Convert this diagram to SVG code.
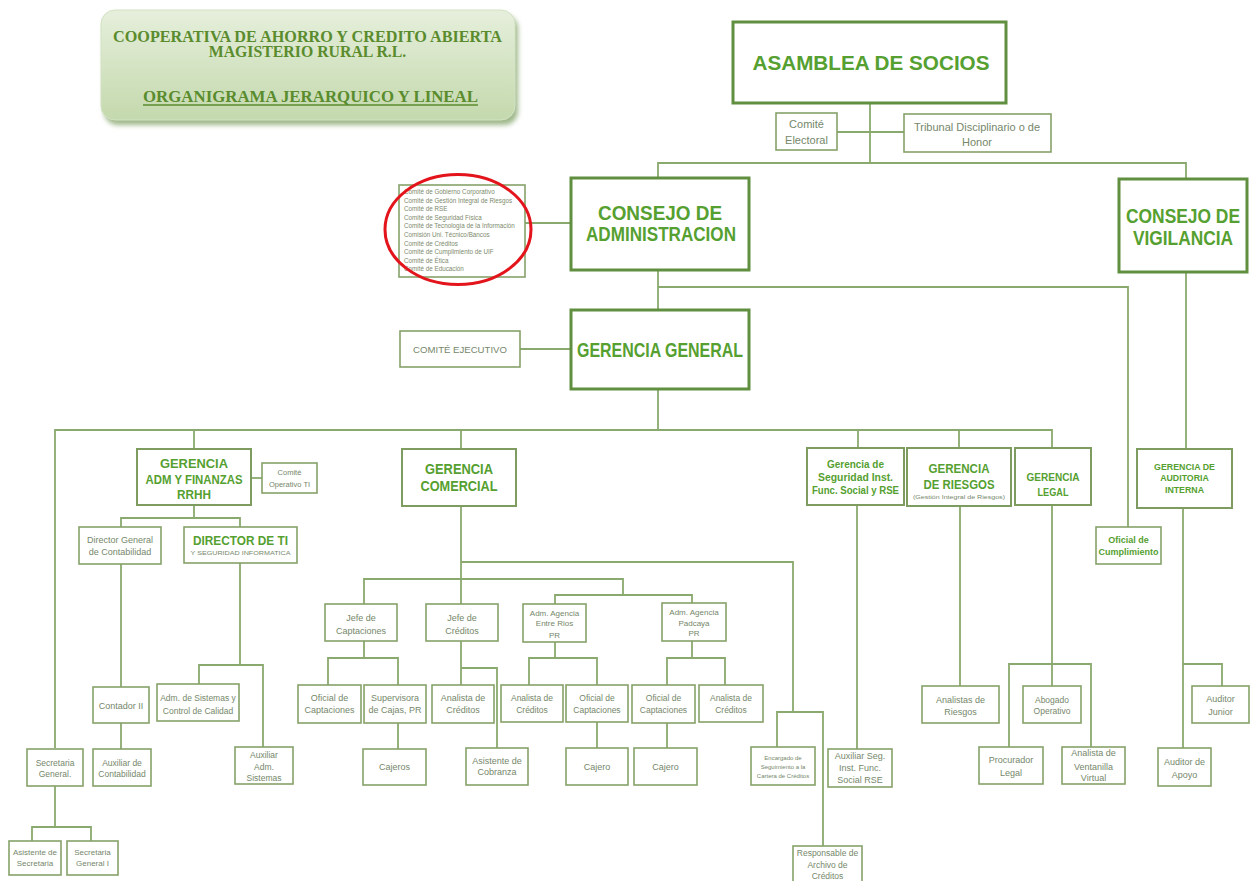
<svg xmlns="http://www.w3.org/2000/svg" width="1255" height="881" viewBox="0 0 1255 881">
<defs>
<linearGradient id="tg" x1="0" y1="0" x2="0" y2="1">
<stop offset="0" stop-color="#e6efdc"/>
<stop offset="1" stop-color="#c4d9ad"/>
</linearGradient>
<filter id="blur" x="-10%" y="-10%" width="120%" height="130%"><feGaussianBlur stdDeviation="2.5"/></filter>
<style>
.b{fill:#fff;stroke:#86a26a;stroke-width:1.6}
.bm{fill:#fff;stroke:#7f9c60;stroke-width:2}
.bb{fill:#fff;stroke:#5f8f3f;stroke-width:3}
.c path{fill:none;stroke:#8aa96e;stroke-width:1.8}
text{font-family:"Liberation Sans",Arial,sans-serif;text-anchor:middle}
.h{font-weight:bold;fill:#55a030}
.s{fill:#75876a}
.tt{font-family:"Liberation Serif","Times New Roman",serif;font-weight:bold;fill:#5a8c2e}
.cl{fill:#7d8a6c;font-size:6.3px;text-anchor:start}
</style>
</defs>
<rect width="1255" height="881" fill="#fff"/>

<g id="title">
<rect x="104" y="15" width="414" height="110" rx="14" fill="#9fb88a" filter="url(#blur)"/>
<rect x="101" y="10" width="414" height="110" rx="14" fill="url(#tg)" stroke="#d3e2c4" stroke-width="1"/>
<text class="tt" x="307.5" y="42" style="font-size:15.8px" textLength="389" lengthAdjust="spacingAndGlyphs">COOPERATIVA DE AHORRO Y CREDITO ABIERTA</text>
<text class="tt" x="307.5" y="57" style="font-size:15.8px">MAGISTERIO RURAL R.L.</text>
<text class="tt" x="310.5" y="102" style="font-size:16.6px" textLength="335" lengthAdjust="spacingAndGlyphs">ORGANIGRAMA JERARQUICO Y LINEAL</text>
<line x1="143" y1="105" x2="478" y2="105" stroke="#5a8c2e" stroke-width="1.5"/>
</g>

<g id="connectors" class="c">
<path d="M870,103V163"/>
<path d="M837,132H904"/>
<path d="M658,178V163H1186V179"/>
<path d="M525,223H571"/>
<path d="M658,270V310"/>
<path d="M658,287H1128V527"/>
<path d="M1186,272V449"/>
<path d="M520,349H571"/>
<path d="M658,389V430"/>
<path d="M55,748V430H1052V448"/>
<path d="M194,430V449"/>
<path d="M461,430V449"/>
<path d="M858,430V448"/>
<path d="M959,430V448"/>
<path d="M251,478H262"/>
<path d="M194,505V518"/>
<path d="M121,527V518H240V527"/>
<path d="M121,564V687"/>
<path d="M121,723V749"/>
<path d="M240,563V665"/>
<path d="M199,684V665H263V747"/>
<path d="M55,786V827"/>
<path d="M32,841V827H91V841"/>
<path d="M461,506V604"/>
<path d="M461,562H793V712"/>
<path d="M777,747V712H823V846"/>
<path d="M364,604V579H623V595"/>
<path d="M555,604V595H692V603"/>
<path d="M364,641V658"/>
<path d="M328,685V658H398V685"/>
<path d="M398,723V749"/>
<path d="M461,641V685"/>
<path d="M461,668H497V748"/>
<path d="M555,642V658"/>
<path d="M529,685V658H597V685"/>
<path d="M597,722V748"/>
<path d="M692,641V658"/>
<path d="M667,685V658H725V685"/>
<path d="M667,723V748"/>
<path d="M857,505V749"/>
<path d="M960,506V686"/>
<path d="M1052,505V686"/>
<path d="M1009,747V664H1091V747"/>
<path d="M1183,508V748"/>
<path d="M1183,664H1222V686"/>
</g>

<g id="asamblea"><rect class="bb" x="733" y="22" width="273" height="81"/>
<text class="h" x="871" y="70" style="font-size:20.5px" textLength="237" lengthAdjust="spacingAndGlyphs">ASAMBLEA DE SOCIOS</text></g>

<g id="comite-electoral"><rect class="b" x="776" y="113" width="61" height="37"/>
<text class="s" x="806.5" y="128" style="font-size:11px">Comité</text>
<text class="s" x="806.5" y="144" style="font-size:11px">Electoral</text></g>

<g id="tribunal"><rect class="b" x="904" y="114" width="147" height="38"/>
<text class="s" x="977" y="131" style="font-size:11px">Tribunal Disciplinario o de</text>
<text class="s" x="977" y="146" style="font-size:11px">Honor</text></g>

<g id="consejo-admin"><rect class="bb" x="571" y="178" width="178" height="92"/>
<text class="h" x="660" y="220" style="font-size:20px" textLength="124" lengthAdjust="spacingAndGlyphs">CONSEJO DE</text>
<text class="h" x="661" y="241" style="font-size:20px" textLength="150" lengthAdjust="spacingAndGlyphs">ADMINISTRACION</text></g>

<g id="consejo-vigilancia"><rect class="bb" x="1119" y="179" width="128" height="93"/>
<text class="h" x="1183" y="223" style="font-size:20px" textLength="114" lengthAdjust="spacingAndGlyphs">CONSEJO DE</text>
<text class="h" x="1183" y="245" style="font-size:20px" textLength="100" lengthAdjust="spacingAndGlyphs">VIGILANCIA</text></g>

<g id="comites"><rect class="b" x="399" y="185" width="126" height="92"/>
<text class="cl" x="404" y="194">Comité de Gobierno Corporativo</text>
<text class="cl" x="404" y="202.6">Comité de Gestión Integral de Riesgos</text>
<text class="cl" x="404" y="211.2">Comité de RSE</text>
<text class="cl" x="404" y="219.8">Comité de Seguridad Física</text>
<text class="cl" x="404" y="228.4">Comité de Tecnología de la Información</text>
<text class="cl" x="404" y="237">Comisión Uni. Técnico/Bancos</text>
<text class="cl" x="404" y="245.6">Comité de Créditos</text>
<text class="cl" x="404" y="254.2">Comité de Cumplimiento de UIF</text>
<text class="cl" x="404" y="262.8">Comité de Ética</text>
<text class="cl" x="404" y="271.4">Comité de Educación</text></g>

<g id="gerencia-general"><rect class="bb" x="571" y="310" width="178" height="79"/>
<text class="h" x="660" y="357" style="font-size:20px" textLength="166" lengthAdjust="spacingAndGlyphs">GERENCIA GENERAL</text></g>

<g id="comite-ejecutivo"><rect class="b" x="400" y="331" width="120" height="36"/>
<text class="s" x="460" y="352.5" style="font-size:9.6px">COMITÉ EJECUTIVO</text></g>

<g id="gerencia-adm"><rect class="bm" x="137" y="449" width="114" height="56"/>
<text class="h" x="194" y="468" style="font-size:13px" textLength="68" lengthAdjust="spacingAndGlyphs">GERENCIA</text>
<text class="h" x="194" y="484" style="font-size:13px" textLength="97" lengthAdjust="spacingAndGlyphs">ADM Y FINANZAS</text>
<text class="h" x="194" y="499" style="font-size:13px" textLength="34" lengthAdjust="spacingAndGlyphs">RRHH</text></g>

<g id="comite-operativo"><rect class="b" x="262" y="463" width="55" height="30"/>
<text class="s" x="289.5" y="474.6" style="font-size:7.5px">Comité</text>
<text class="s" x="289.5" y="486.6" style="font-size:7.5px">Operativo TI</text></g>

<g id="director-contabilidad"><rect class="b" x="79" y="527" width="82" height="37"/>
<text class="s" x="120" y="543" style="font-size:9px">Director General</text>
<text class="s" x="120" y="555" style="font-size:9px">de Contabilidad</text></g>

<g id="director-ti"><rect class="b" x="184" y="527" width="113" height="36"/>
<text class="h" x="240.5" y="545" style="font-size:13px" textLength="95" lengthAdjust="spacingAndGlyphs">DIRECTOR  DE TI</text>
<text class="s" x="240.5" y="554.5" style="font-size:6px" textLength="100" lengthAdjust="spacingAndGlyphs">Y SEGURIDAD INFORMATICA</text></g>

<g id="contador"><rect class="b" x="93" y="687" width="56" height="36"/>
<text class="s" x="121" y="709" style="font-size:9px">Contador II</text></g>

<g id="aux-contabilidad"><rect class="b" x="93" y="749" width="58" height="37"/>
<text class="s" x="122" y="766" style="font-size:8.5px">Auxiliar de</text>
<text class="s" x="122" y="777" style="font-size:8.5px">Contabilidad</text></g>

<g id="adm-sistemas"><rect class="b" x="157" y="684" width="82" height="37"/>
<text class="s" x="198" y="701" style="font-size:8.5px">Adm. de Sistemas y</text>
<text class="s" x="198" y="714" style="font-size:8.5px">Control de Calidad</text></g>

<g id="aux-adm-sistemas"><rect class="b" x="235" y="747" width="58" height="37"/>
<text class="s" x="264" y="758" style="font-size:8.5px">Auxiliar</text>
<text class="s" x="264" y="770" style="font-size:8.5px">Adm.</text>
<text class="s" x="264" y="781" style="font-size:8.5px">Sistemas</text></g>

<g id="secretaria-general"><rect class="b" x="27" y="749" width="56" height="37"/>
<text class="s" x="55" y="766" style="font-size:8.5px">Secretaria</text>
<text class="s" x="55" y="777" style="font-size:8.5px">General.</text></g>

<g id="asistente-secretaria"><rect class="b" x="9" y="841" width="52" height="34"/>
<text class="s" x="35" y="855" style="font-size:8px">Asistente de</text>
<text class="s" x="35" y="866" style="font-size:8px">Secretaria</text></g>

<g id="secretaria-general-1"><rect class="b" x="67" y="841" width="51" height="34"/>
<text class="s" x="92.5" y="855" style="font-size:8px">Secretaria</text>
<text class="s" x="92.5" y="866" style="font-size:8px">General I</text></g>

<g id="gerencia-comercial"><rect class="bm" x="402" y="449" width="114" height="57"/>
<text class="h" x="459" y="474" style="font-size:14px" textLength="68" lengthAdjust="spacingAndGlyphs">GERENCIA</text>
<text class="h" x="459" y="491" style="font-size:14px" textLength="77" lengthAdjust="spacingAndGlyphs">COMERCIAL</text></g>

<g id="jefe-captaciones"><rect class="b" x="325" y="604" width="72" height="37"/>
<text class="s" x="361" y="621" style="font-size:9px">Jefe de</text>
<text class="s" x="361" y="634" style="font-size:9px">Captaciones</text></g>

<g id="jefe-creditos"><rect class="b" x="426" y="604" width="72" height="37"/>
<text class="s" x="462" y="621" style="font-size:9px">Jefe de</text>
<text class="s" x="462" y="634" style="font-size:9px">Créditos</text></g>

<g id="agencia-entre-rios"><rect class="b" x="523" y="604" width="63" height="38"/>
<text class="s" x="554.5" y="616" style="font-size:8px">Adm. Agencia</text>
<text class="s" x="554.5" y="626" style="font-size:8px">Entre Rios</text>
<text class="s" x="554.5" y="638" style="font-size:8px">PR</text></g>

<g id="agencia-padcaya"><rect class="b" x="662" y="603" width="64" height="38"/>
<text class="s" x="694" y="615" style="font-size:8px">Adm. Agencia</text>
<text class="s" x="694" y="626" style="font-size:8px">Padcaya</text>
<text class="s" x="694" y="636" style="font-size:8px">PR</text></g>

<g id="oficial-captaciones-1"><rect class="b" x="298" y="685" width="63" height="38"/>
<text class="s" x="329.5" y="701" style="font-size:9px">Oficial de</text>
<text class="s" x="329.5" y="713" style="font-size:9px">Captaciones</text></g>

<g id="supervisora-cajas"><rect class="b" x="364" y="685" width="62" height="38"/>
<text class="s" x="395" y="701" style="font-size:9px">Supervisora</text>
<text class="s" x="395" y="713" style="font-size:9px">de Cajas, PR</text></g>

<g id="analista-creditos-1"><rect class="b" x="432" y="685" width="62" height="38"/>
<text class="s" x="463" y="701" style="font-size:9px">Analista de</text>
<text class="s" x="463" y="713" style="font-size:9px">Créditos</text></g>

<g id="analista-creditos-2"><rect class="b" x="501" y="685" width="62" height="37"/>
<text class="s" x="532" y="701" style="font-size:8.5px">Analista de</text>
<text class="s" x="532" y="713" style="font-size:8.5px">Créditos</text></g>

<g id="oficial-captaciones-2"><rect class="b" x="566" y="685" width="62" height="37"/>
<text class="s" x="597" y="701" style="font-size:8.5px">Oficial de</text>
<text class="s" x="597" y="713" style="font-size:8.5px">Captaciones</text></g>

<g id="oficial-captaciones-3"><rect class="b" x="632" y="685" width="63" height="38"/>
<text class="s" x="663.5" y="701" style="font-size:8.5px">Oficial de</text>
<text class="s" x="663.5" y="713" style="font-size:8.5px">Captaciones</text></g>

<g id="analista-creditos-3"><rect class="b" x="699" y="685" width="64" height="37"/>
<text class="s" x="731" y="701" style="font-size:8.5px">Analista de</text>
<text class="s" x="731" y="713" style="font-size:8.5px">Créditos</text></g>

<g id="cajeros"><rect class="b" x="363" y="749" width="63" height="36"/>
<text class="s" x="394.5" y="770" style="font-size:9px">Cajeros</text></g>

<g id="asistente-cobranza"><rect class="b" x="466" y="748" width="62" height="37"/>
<text class="s" x="497" y="764" style="font-size:9px">Asistente de</text>
<text class="s" x="497" y="775" style="font-size:9px">Cobranza</text></g>

<g id="cajero-1"><rect class="b" x="566" y="748" width="62" height="37"/>
<text class="s" x="597" y="770" style="font-size:9px">Cajero</text></g>

<g id="cajero-2"><rect class="b" x="634" y="748" width="63" height="37"/>
<text class="s" x="665.5" y="770" style="font-size:9px">Cajero</text></g>

<g id="encargado-seguimiento"><rect class="b" x="751" y="747" width="64" height="38"/>
<text class="s" x="783" y="760" style="font-size:6px">Encargado de</text>
<text class="s" x="783" y="769" style="font-size:6px">Seguimiento a la</text>
<text class="s" x="783" y="778" style="font-size:6px">Cartera de Créditos</text></g>

<g id="responsable-archivo"><rect class="b" x="793" y="846" width="69" height="44"/>
<text class="s" x="827.5" y="856" style="font-size:8.5px">Responsable de</text>
<text class="s" x="827.5" y="868" style="font-size:8.5px">Archivo de</text>
<text class="s" x="827.5" y="879" style="font-size:8.5px">Créditos</text></g>

<g id="gerencia-seguridad"><rect class="bm" x="807" y="448" width="97" height="57"/>
<text class="h" x="855.5" y="468" style="font-size:10.5px" textLength="57" lengthAdjust="spacingAndGlyphs">Gerencia de</text>
<text class="h" x="855.5" y="481" style="font-size:10.5px" textLength="75" lengthAdjust="spacingAndGlyphs">Seguridad  Inst.</text>
<text class="h" x="855.5" y="494" style="font-size:10.5px" textLength="87" lengthAdjust="spacingAndGlyphs">Func. Social y RSE</text></g>

<g id="aux-seguridad"><rect class="b" x="828" y="749" width="64" height="38"/>
<text class="s" x="860" y="759" style="font-size:9px">Auxiliar Seg.</text>
<text class="s" x="860" y="771" style="font-size:9px">Inst. Func.</text>
<text class="s" x="860" y="783" style="font-size:9px">Social RSE</text></g>

<g id="gerencia-riesgos"><rect class="bm" x="907" y="448" width="104" height="58"/>
<text class="h" x="959" y="473" style="font-size:13.5px" textLength="61" lengthAdjust="spacingAndGlyphs">GERENCIA</text>
<text class="h" x="959" y="489" style="font-size:13.5px" textLength="71" lengthAdjust="spacingAndGlyphs">DE RIESGOS</text>
<text class="s" x="959" y="498.5" style="font-size:6px" textLength="92" lengthAdjust="spacingAndGlyphs">(Gestión Integral de Riesgos)</text></g>

<g id="analistas-riesgos"><rect class="b" x="922" y="686" width="77" height="37"/>
<text class="s" x="960.5" y="703" style="font-size:9px">Analistas de</text>
<text class="s" x="960.5" y="715" style="font-size:9px">Riesgos</text></g>

<g id="gerencia-legal"><rect class="bm" x="1015" y="448" width="76" height="57"/>
<text class="h" x="1053" y="481" style="font-size:11.5px" textLength="53" lengthAdjust="spacingAndGlyphs">GERENCIA</text>
<text class="h" x="1053" y="496" style="font-size:11.5px" textLength="31" lengthAdjust="spacingAndGlyphs">LEGAL</text></g>

<g id="abogado"><rect class="b" x="1023" y="686" width="58" height="37"/>
<text class="s" x="1052" y="703" style="font-size:8.5px">Abogado</text>
<text class="s" x="1052" y="714" style="font-size:8.5px">Operativo</text></g>

<g id="procurador"><rect class="b" x="979" y="747" width="64" height="37"/>
<text class="s" x="1011" y="763" style="font-size:9px">Procurador</text>
<text class="s" x="1011" y="776" style="font-size:9px">Legal</text></g>

<g id="analista-ventanilla"><rect class="b" x="1062" y="747" width="63" height="37"/>
<text class="s" x="1093.5" y="756" style="font-size:9px">Analista de</text>
<text class="s" x="1093.5" y="770" style="font-size:9px">Ventanilla</text>
<text class="s" x="1093.5" y="781" style="font-size:9px">Virtual</text></g>

<g id="oficial-cumplimiento"><rect class="b" x="1096" y="527" width="65" height="37"/>
<text class="h" x="1128.5" y="543" style="font-size:9px">Oficial de</text>
<text class="h" x="1128.5" y="555" style="font-size:9px">Cumplimiento</text></g>

<g id="gerencia-auditoria"><rect class="bm" x="1137" y="449" width="95" height="59"/>
<text class="h" x="1184.5" y="470" style="font-size:8.8px">GERENCIA DE</text>
<text class="h" x="1184.5" y="481" style="font-size:8.8px">AUDITORIA</text>
<text class="h" x="1184.5" y="493" style="font-size:8.8px">INTERNA</text></g>

<g id="auditor-junior"><rect class="b" x="1192" y="686" width="57" height="37"/>
<text class="s" x="1220.5" y="702" style="font-size:9px">Auditor</text>
<text class="s" x="1220.5" y="715" style="font-size:9px">Junior</text></g>

<g id="auditor-apoyo"><rect class="b" x="1158" y="748" width="53" height="38"/>
<text class="s" x="1184.5" y="765" style="font-size:9px">Auditor de</text>
<text class="s" x="1184.5" y="778" style="font-size:9px">Apoyo</text></g>

<ellipse id="highlight" cx="458" cy="229.5" rx="73" ry="55" fill="none" stroke="#e3141b" stroke-width="3"/>
</svg>
